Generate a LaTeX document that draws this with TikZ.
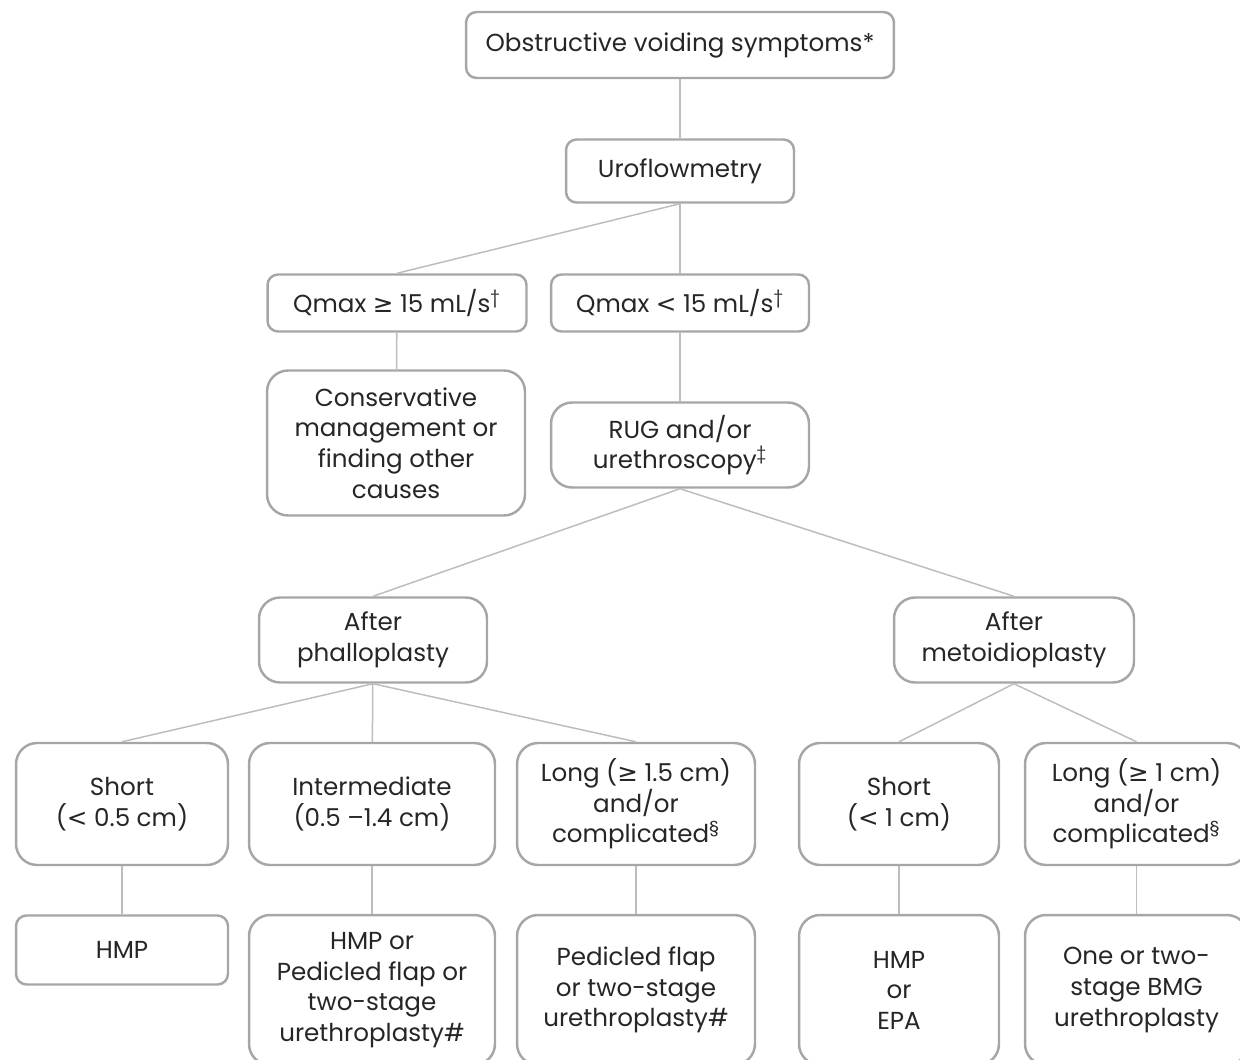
\documentclass[tikz,border=0pt]{standalone}
\usepackage{fontspec}
\setmainfont{Poppins}
\newfontfamily\symfont{DejaVu Sans}
\newcommand{\gesign}{{\symfont ≥}}
\newcommand{\ltsign}{{\symfont <}}
\usetikzlibrary{positioning}
\definecolor{boxgray}{HTML}{A6A6A6}
\definecolor{linkgray}{HTML}{BDBDBD}

\begin{document}
\begin{tikzpicture}[
    x=0.02cm, y=-0.02cm, font=\fontsize{14}{17.4}\selectfont,
    box/.style={draw=boxgray, line width=1.4pt, rounded corners=6pt, fill=white, align=center, inner sep=0pt, text=black!85},
    tall/.style={box, rounded corners=12pt},
    link/.style={draw=linkgray, line width=0.85pt}]
  \useasboundingbox (0,0) rectangle (1240,1060);
  \clip (0,0) rectangle (1240,1060);
  % top of the tree
  \node[box, minimum width=8.56cm, minimum height=1.32cm] (sym) at (680,45) {Obstructive voiding symptoms*};
  \node[box, minimum width=4.56cm, minimum height=1.26cm] (uro) at (680,171) {Uroflowmetry};
  \node[box, minimum width=5.18cm, minimum height=1.14cm] (qhi) at (397,303) {Qmax \gesign{} 15 mL/s\textsuperscript{†}};
  \node[box, minimum width=5.16cm, minimum height=1.14cm] (qlo) at (680,303) {Qmax \ltsign{} 15 mL/s\textsuperscript{†}};
  \node[tall, minimum width=5.16cm, minimum height=2.9cm] (cons) at (396,443) {Conservative\\management or\\finding other\\causes};
  \node[tall, minimum width=5.16cm, minimum height=1.7cm] (rug) at (680,445) {RUG and/or\\urethroscopy\textsuperscript{‡}};
  \node[tall, minimum width=4.56cm, minimum height=1.7cm] (phal) at (373,640) {After\\phalloplasty};
  \node[tall, minimum width=4.8cm, minimum height=1.7cm] (meta) at (1014,640) {After\\metoidioplasty};
  % stricture length
  \node[tall, minimum width=4.24cm, minimum height=2.44cm] (ps) at (122,804) {Short\\(\ltsign{} 0.5 cm)};
  \node[tall, minimum width=4.92cm, minimum height=2.44cm] (pi) at (372,804) {Intermediate\\(0.5 –1.4 cm)};
  \node[tall, minimum width=4.76cm, minimum height=2.44cm] (pl) at (636,804) {Long (\gesign{} 1.5 cm)\\and/or\\complicated\textsuperscript{§}};
  \node[tall, minimum width=4.0cm, minimum height=2.44cm] (ms) at (899,804) {Short\\(\ltsign{} 1 cm)};
  \node[tall, minimum width=4.46cm, minimum height=2.44cm] (ml) at (1136.5,804) {Long (\gesign{} 1 cm)\\and/or\\complicated\textsuperscript{§}};
  % treatment
  \node[box, minimum width=4.24cm, minimum height=1.38cm] (tps) at (122,950) {HMP};
  \node[tall, minimum width=4.92cm, minimum height=3.0cm] (tpi) at (372,990) {HMP or\\Pedicled flap or\\two-stage\\urethroplasty\#};
  \node[tall, minimum width=4.76cm, minimum height=3.0cm] (tpl) at (636,990) {Pedicled flap\\or two-stage\\urethroplasty\#};
  \node[tall, minimum width=4.0cm, minimum height=3.0cm] (tms) at (899,990) {HMP\\or\\EPA};
  \node[tall, minimum width=4.46cm, minimum height=3.0cm] (tml) at (1136.5,990) {One or two-\\stage BMG\\urethroplasty};
  \draw[link] (sym) -- (uro);
  \draw[link] (uro.south) -- (qhi.north);
  \draw[link] (uro) -- (qlo);
  \draw[link] (qhi) -- (cons);
  \draw[link] (qlo) -- (rug);
  \draw[link] (rug.south) -- (phal.north);
  \draw[link] (rug.south) -- (meta.north);
  \draw[link] (phal.south) -- (ps.north);
  \draw[link] (phal) -- (pi);
  \draw[link] (phal.south) -- (pl.north);
  \draw[link] (meta.south) -- (ms.north);
  \draw[link] (meta.south) -- (ml.north);
  \draw[link] (ps) -- (tps);
  \draw[link] (pi) -- (tpi);
  \draw[link] (pl) -- (tpl);
  \draw[link] (ms) -- (tms);
  \draw[link] (ml) -- (tml);
\end{tikzpicture}
\end{document}
